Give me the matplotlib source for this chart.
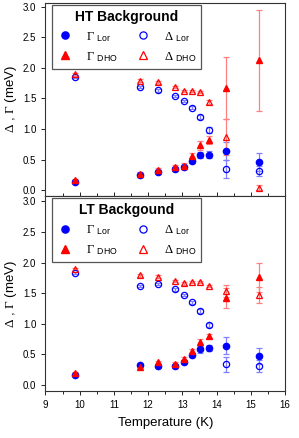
import matplotlib
matplotlib.use('Agg')
import matplotlib.pyplot as plt
from matplotlib.ticker import MultipleLocator

plt.rcParams['font.family'] = ['Liberation Sans', 'DejaVu Sans']
plt.rcParams['mathtext.fontset'] = 'custom'
plt.rcParams['mathtext.rm'] = 'Liberation Serif'
plt.rcParams['mathtext.sf'] = 'Liberation Sans'
plt.rcParams['mathtext.it'] = 'Liberation Serif:italic'

# temperatures (K)
temps = [9.87, 11.75, 12.3, 12.78, 13.04, 13.27, 13.52, 13.77, 14.28, 15.25]

# HT background fit
ht_gam_lor = [0.14, 0.24, 0.30, 0.34, 0.37, 0.48, 0.57, 0.58, 0.64, 0.46]
ht_gam_lor_err = [0.02, 0.02, 0.03, 0.03, 0.03, 0.04, 0.05, 0.06, 0.15, 0.14]
ht_del_lor = [1.85, 1.69, 1.63, 1.54, 1.46, 1.35, 1.20, 0.98, 0.34, 0.31]
ht_del_lor_err = [0.02, 0.02, 0.02, 0.02, 0.02, 0.03, 0.03, 0.05, 0.15, 0.08]
ht_gam_dho = [0.16, 0.27, 0.33, 0.38, 0.40, 0.55, 0.73, 0.82, 1.67, 2.12]
ht_gam_dho_err = [0.02, 0.02, 0.03, 0.03, 0.04, 0.05, 0.07, 0.07, 0.50, 0.82]
ht_del_dho = [1.89, 1.79, 1.76, 1.69, 1.62, 1.62, 1.60, 1.44, 0.87, 0.04]
ht_del_dho_err = [0.02, 0.02, 0.02, 0.02, 0.02, 0.02, 0.02, 0.03, 0.30, 0.04]

# LT background fit
lt_gam_lor = [0.16, 0.33, 0.31, 0.31, 0.37, 0.49, 0.58, 0.61, 0.64, 0.47]
lt_gam_lor_err = [0.02, 0.02, 0.03, 0.03, 0.03, 0.04, 0.05, 0.05, 0.14, 0.13]
lt_del_lor = [1.83, 1.62, 1.65, 1.56, 1.47, 1.35, 1.21, 0.98, 0.34, 0.31]
lt_del_lor_err = [0.02, 0.02, 0.02, 0.02, 0.02, 0.02, 0.03, 0.03, 0.12, 0.10]
lt_gam_dho = [0.19, 0.30, 0.37, 0.35, 0.42, 0.55, 0.70, 0.80, 1.42, 1.76]
lt_gam_dho_err = [0.02, 0.02, 0.03, 0.03, 0.03, 0.04, 0.05, 0.04, 0.17, 0.24]
lt_del_dho = [1.89, 1.79, 1.77, 1.70, 1.66, 1.68, 1.68, 1.62, 1.54, 1.47]
lt_del_dho_err = [0.02, 0.02, 0.02, 0.02, 0.02, 0.02, 0.02, 0.02, 0.10, 0.13]

fig = plt.figure(figsize=(2.99, 4.38), dpi=100)
ax_top = fig.add_axes([0.152, 0.553, 0.801, 0.441])
ax_bot = fig.add_axes([0.152, 0.107, 0.801, 0.446])


def draw_panel(ax, gl, gle, dl, dle, gd, gde, dd, dde, title):
    h1 = ax.errorbar(temps, gl, yerr=gle, fmt='o', color='#0000ff', ms=4.5,
                     ecolor='#8080ff', elinewidth=0.9, capsize=2, capthick=0.9)
    h2 = ax.errorbar(temps, dl, yerr=dle, fmt='o', mfc='none', mec='#0000ff', mew=0.9,
                     ms=4.5, ecolor='#8080ff', elinewidth=0.9, capsize=2, capthick=0.9)
    h3 = ax.errorbar(temps, gd, yerr=gde, fmt='^', color='#ff0000', ms=5,
                     ecolor='#ff8080', elinewidth=0.9, capsize=2, capthick=0.9)
    h4 = ax.errorbar(temps, dd, yerr=dde, fmt='^', mfc='none', mec='#ff0000', mew=0.9,
                     ms=5, ecolor='#ff8080', elinewidth=0.9, capsize=2, capthick=0.9)
    handles = [h1, h3, h2, h4]
    labels = [r'$\Gamma$ $_{\mathsf{Lor}}$', r'$\Gamma$ $_{\mathsf{DHO}}$',
              r'$\Delta$ $_{\mathsf{Lor}}$', r'$\Delta$ $_{\mathsf{DHO}}$']
    leg = ax.legend([h[0] for h in handles], labels, ncol=2, loc='upper left',
                    bbox_to_anchor=(0.02, 1.0), borderaxespad=0.15,
                    title=title, fontsize=9, markerscale=1.15,
                    title_fontproperties={'weight': 'bold', 'size': 10},
                    fancybox=False, framealpha=1, edgecolor='#555555',
                    handletextpad=1.0, columnspacing=1.4, borderpad=0.4,
                    labelspacing=0.5, handlelength=1.3)
    leg.get_frame().set_linewidth(0.9)

    ax.set_xlim(9, 16)
    ax.xaxis.set_major_locator(MultipleLocator(1))
    ax.xaxis.set_minor_locator(MultipleLocator(0.5))
    ax.yaxis.set_major_locator(MultipleLocator(0.5))
    ax.set_ylabel(r'$\Delta$ , $\Gamma$ (meV)', fontsize=9.5, labelpad=3)
    ax.tick_params(axis='y', direction='out', labelsize=7, length=3, width=0.6)
    for s in ax.spines.values():
        s.set_color('#333333')
        s.set_linewidth(0.8)


draw_panel(ax_top, ht_gam_lor, ht_gam_lor_err, ht_del_lor, ht_del_lor_err,
           ht_gam_dho, ht_gam_dho_err, ht_del_dho, ht_del_dho_err, 'HT Background')
draw_panel(ax_bot, lt_gam_lor, lt_gam_lor_err, lt_del_lor, lt_del_lor_err,
           lt_gam_dho, lt_gam_dho_err, lt_del_dho, lt_del_dho_err, 'LT Backgound')

ax_top.set_ylim(-0.093, 3.065)
ax_bot.set_ylim(-0.10, 3.09)

ax_top.tick_params(axis='x', which='both', direction='in', labelbottom=False, width=0.6)
ax_top.tick_params(axis='x', which='major', length=3)
ax_top.tick_params(axis='x', which='minor', length=2)
ax_bot.tick_params(axis='x', which='both', direction='out', labelsize=7, width=0.6)
ax_bot.tick_params(axis='x', which='major', length=3)
ax_bot.tick_params(axis='x', which='minor', length=2)
ax_bot.set_xlabel('Temperature (K)', fontsize=9.5, labelpad=5)

fig.savefig('out.png', dpi=100)
